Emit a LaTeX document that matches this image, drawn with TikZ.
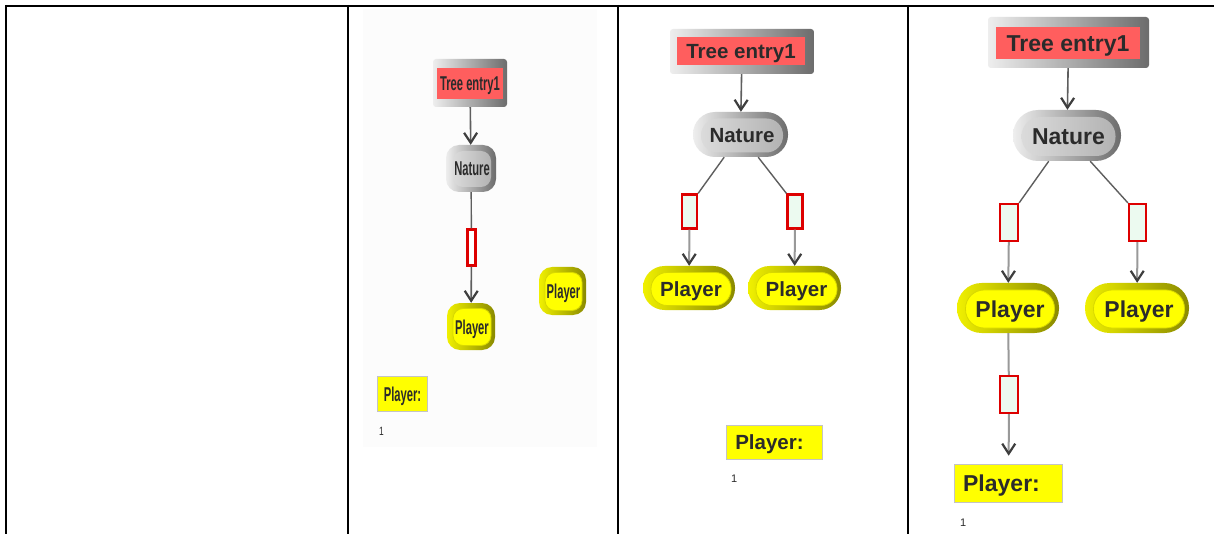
\documentclass[tikz,border=0pt]{standalone}
\usepackage{fontspec}
\usepackage{graphicx}
\setmainfont{Liberation Sans}
\usetikzlibrary{arrows.meta}
\definecolor{txt}{HTML}{2B2B2B}
\definecolor{redfill}{HTML}{FF5E5E}
\definecolor{redline}{HTML}{DD0000}
\definecolor{mint}{HTML}{ECFAF0}
\definecolor{ylw}{HTML}{FFFF00}
\definecolor{ylwlight}{HTML}{F0F000}
\definecolor{olive}{HTML}{8A8A00}
\definecolor{ylwedge}{HTML}{D8D800}
\definecolor{grlight}{HTML}{EEEEEE}
\definecolor{grdark}{HTML}{6C6C6C}
\definecolor{grin}{HTML}{D2D2D2}
\definecolor{lnc}{HTML}{5E5E5E}
\definecolor{lnl}{HTML}{999999}
\definecolor{tipc}{HTML}{3E3E3E}
\definecolor{lblborder}{HTML}{C4C4C4}
\newcommand\narrowtxt[2]{\scalebox{0.56}[1]{\fontsize{#1}{#1}\selectfont\bfseries #2}}
\tikzset{
  x=1pt, y=-1pt,
  grid line/.style={line width=2pt, black},
  treeout/.style={rectangle, draw=none, rounded corners=3pt, inner sep=0pt, left color=grlight, right color=grdark},
  treein/.style={rectangle, draw=none, fill=redfill, inner sep=0pt, text=txt, text depth=0pt},
  natout/.style={rectangle, draw=none, inner sep=0pt, left color=grlight, right color=grdark},
  natin/.style={rectangle, draw=none, inner sep=0pt, left color=grin!80!white, right color=grin!85!black, text=txt, text depth=0pt},
  plyout/.style={rectangle, draw=none, inner sep=0pt, left color=ylwlight, right color=olive},
  plyin/.style={rectangle, draw=ylwedge, line width=0.8pt, inner sep=0pt, fill=ylw, text=txt, text depth=0pt},
  chance/.style={rectangle, draw=redline, line width=2.2pt, fill=mint, inner sep=0pt},
  lbl/.style={rectangle, draw=lblborder, line width=1.6pt, fill=ylw, inner sep=0pt, text=txt, anchor=center, text depth=0pt},
  numtxt/.style={text=txt, inner sep=0pt, anchor=west},
  arr/.style={draw=lnc, line width=1.6pt, -{Straight Barb[length=10pt, width=13pt, line width=2.2pt, color=tipc]}},
  arrl/.style={draw=lnl, line width=2pt, -{Straight Barb[length=10pt, width=13pt, line width=2.2pt, color=tipc]}},
  plain/.style={draw=lnc, line width=1.4pt},
  plainl/.style={draw=lnl, line width=2pt},
}
\begin{document}
\begin{tikzpicture}
\useasboundingbox (0,0) rectangle (1214,534);
\fill[white] (0,0) rectangle (1214,534);
% faint screenshot background in column 2
\fill[black!1.2] (363,9) rectangle (597,447);

% table grid
\draw[grid line] (5,6) -- (1214,6);
\draw[grid line] (6,5) -- (6,534);
\draw[grid line] (348,5) -- (348,534);
\draw[grid line] (618,5) -- (618,534);
\draw[grid line] (908,5) -- (908,534);

% ================= column 2 (condensed) =================
\node[treeout, minimum width=74pt, minimum height=48pt] (T2) at (470,83) {};
\node[treein, minimum width=66pt, minimum height=31pt] (T2in) at (470,84) {\narrowtxt{20}{Tree entry1}};

\node[natout, rounded corners=13pt, minimum width=50pt, minimum height=47pt] (N2) at (471,168.5) {};
\node[natin, rounded corners=10pt, minimum width=38pt, minimum height=36pt] (N2in) at (472,169) {\narrowtxt{20}{Nature}};

\node[chance, fill=white, minimum width=8pt, minimum height=36pt] (R2) at (471.5,247.5) {};

\node[plyout, rounded corners=13pt, minimum width=48pt, minimum height=47pt] (P2a) at (471,326.5) {};
\node[plyin, rounded corners=10pt, minimum width=38pt, minimum height=37pt] (P2ain) at (472,327) {\narrowtxt{20}{Player}};

\node[plyout, rounded corners=13pt, minimum width=47pt, minimum height=48pt] (P2b) at (562.5,291) {};
\node[plyin, rounded corners=10pt, minimum width=37pt, minimum height=38pt] (P2bin) at (563.5,291.5) {\narrowtxt{20}{Player}};

\node[lbl, minimum width=50pt, minimum height=35pt] (L2) at (402.5,394) {\narrowtxt{20}{Player:}};
\node[numtxt] (n2) at (379,431) {\scalebox{0.7}[1]{\fontsize{12}{12}\selectfont 1}};

\draw[arr] (T2) -- (N2);
\draw[plain] (N2) -- (R2);
\draw[arr] (R2) -- (P2a);

% ================= column 3 =================
\node[treeout, minimum width=144pt, minimum height=45pt] (T3) at (742,51.5) {};
\node[treein, minimum width=128pt, minimum height=28pt] (T3in) at (741,51.5) {\fontsize{20.5}{20.5}\selectfont\bfseries Tree entry1};

\node[natout, rounded corners=22pt, minimum width=95pt, minimum height=45pt] (N3) at (740.5,134.5) {};
\node[natin, rounded corners=16.5pt, minimum width=82pt, minimum height=34pt] (N3in) at (742,135.5) {\fontsize{20.5}{20.5}\selectfont\bfseries Nature};

\node[chance, minimum width=15pt, minimum height=34pt] (R3a) at (689.5,211.5) {};
\node[chance, minimum width=15pt, minimum height=34pt] (R3b) at (795,211.5) {};

\node[plyout, rounded corners=21.5pt, minimum width=92pt, minimum height=44pt] (P3a) at (689,288) {};
\node[plyin, rounded corners=16pt, minimum width=80pt, minimum height=33pt] (P3ain) at (691,289) {\fontsize{20.5}{20.5}\selectfont\bfseries Player};

\node[plyout, rounded corners=21.5pt, minimum width=93pt, minimum height=44pt] (P3b) at (794.5,288) {};
\node[plyin, rounded corners=16pt, minimum width=81pt, minimum height=33pt] (P3bin) at (796.5,289) {\fontsize{20.5}{20.5}\selectfont\bfseries Player};

\node[lbl, minimum width=96pt, minimum height=34pt] (L3) at (774.5,442.5) {\hspace*{-10pt}\fontsize{20.5}{20.5}\selectfont\bfseries Player:};
\node[numtxt] (n3) at (731,479) {\fontsize{11}{11}\selectfont 1};

\draw[arr] (T3) -- (N3);
\draw[plain] (N3) -- (R3a.north east);
\draw[plain] (N3) -- (R3b.north west);
\draw[arrl] (R3a) -- (P3a);
\draw[arrl] (R3b) -- (P3b);

% ================= column 4 =================
\node[treeout, minimum width=161pt, minimum height=51pt] (T4) at (1068.5,42.5) {};
\node[treein, minimum width=144pt, minimum height=32pt] (T4in) at (1068,43.5) {\fontsize{23}{23}\selectfont\bfseries Tree entry1};

\node[natout, rounded corners=25pt, minimum width=108pt, minimum height=51pt] (N4) at (1067,135.5) {};
\node[natin, rounded corners=19pt, minimum width=94pt, minimum height=39pt] (N4in) at (1068.5,136.5) {\fontsize{23}{23}\selectfont\bfseries Nature};

\node[chance, minimum width=18pt, minimum height=37pt] (R4a) at (1009,222.5) {};
\node[chance, minimum width=17pt, minimum height=37pt] (R4b) at (1137.5,222.5) {};

\node[plyout, rounded corners=24.5pt, minimum width=102pt, minimum height=50pt] (P4a) at (1008,308) {};
\node[plyin, rounded corners=18.5pt, minimum width=89pt, minimum height=38pt] (P4ain) at (1010,309) {\fontsize{23}{23}\selectfont\bfseries Player};

\node[plyout, rounded corners=24.5pt, minimum width=104pt, minimum height=50pt] (P4b) at (1137,308) {};
\node[plyin, rounded corners=18.5pt, minimum width=91pt, minimum height=38pt] (P4bin) at (1139,309) {\fontsize{23}{23}\selectfont\bfseries Player};

\node[chance, minimum width=18pt, minimum height=37pt] (R4c) at (1009,394.5) {};

\node[lbl, minimum width=108pt, minimum height=38pt] (L4) at (1008.5,483.5) {\hspace*{-14pt}\fontsize{23}{23}\selectfont\bfseries Player:};
\node[numtxt] (n4) at (960,523) {\fontsize{11}{11}\selectfont 1};

\draw[arr] (T4) -- (N4);
\draw[plain] (N4) -- (R4a.north east);
\draw[plain] (N4) -- (R4b.north west);
\draw[arrl] (R4a) -- (P4a);
\draw[arrl] (R4b) -- (P4b);
\draw[plainl] (P4a) -- (R4c);
\draw[arrl, shorten >=8pt] (R4c) -- (L4);
\end{tikzpicture}
\end{document}
